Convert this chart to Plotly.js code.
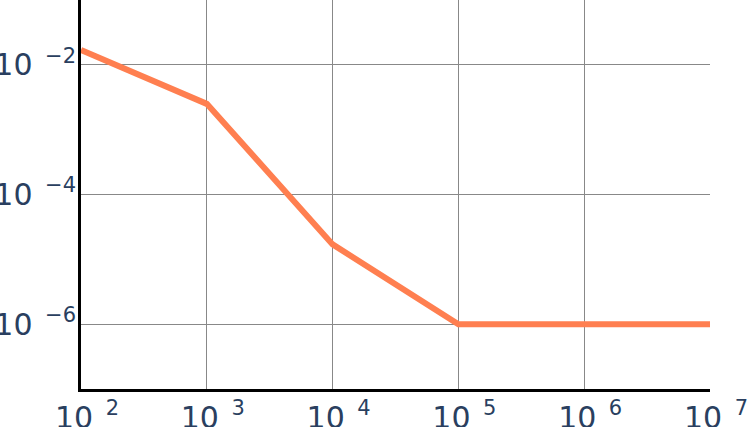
<!DOCTYPE html>
<html><head><meta charset="utf-8">
<script src="https://cdn.plot.ly/plotly-3.0.1.min.js"></script>
<style>body{margin:0;padding:0;}#chart{width:747px;height:427px;}</style>
</head><body><div id="chart"></div>
<script>
const xValues = [1e2, 1e3, 1e4, 1e5, 1e6, 1e7];
const yValues = [0.017, 0.0025, 1.7e-5, 1e-6, 1e-6, 1e-6];
const xTickVals = [1e2, 1e3, 1e4, 1e5, 1e6, 1e7];
const xExponents = ['2', '3', '4', '5', '6', '7'];
const yTickVals = [1e-2, 1e-4, 1e-6];
const yExponents = ['\u22122', '\u22124', '\u22126'];

const gap = ' \u200a';
const xTickText = xExponents.map(e => '10' + gap + '<sup>' + e + '</sup>');
const yTickText = yExponents.map(e => '10' + gap + '<sup>' + e + '</sup>');

const trace = {
  x: xValues, y: yValues, type: 'scatter', mode: 'lines',
  line: {color: '#ff7f50', width: 6}, showlegend: false
};
const layout = {
  width: 747, height: 427,
  margin: {l: 81, r: 37, t: 0, b: 38, pad: 0},
  paper_bgcolor: '#ffffff', plot_bgcolor: '#ffffff',
  font: {family: 'DejaVu Sans, Verdana, sans-serif', size: 30, color: '#2a3f5f'},
  xaxis: {
    type: 'log', range: [2, 7], tickvals: xTickVals, ticktext: xTickText,
    showgrid: true, gridcolor: '#888888', gridwidth: 1,
    showline: true, linecolor: '#000000', linewidth: 3,
    zeroline: false, ticks: '', tickfont: {size: 30, color: '#2a3f5f'},
    ticklabelshift: 6, ticklabeloverflow: 'allow'
  },
  yaxis: {
    type: 'log', range: [-7, -1], tickvals: yTickVals, ticktext: yTickText,
    showgrid: true, gridcolor: '#888888', gridwidth: 1,
    showline: true, linecolor: '#000000', linewidth: 3,
    zeroline: false, ticks: '', tickfont: {size: 30, color: '#2a3f5f'},
    ticklabelstandoff: -4, ticklabeloverflow: 'allow'
  }
};
Plotly.newPlot('chart', [trace], layout, {displayModeBar: false, staticPlot: true});
</script></body></html>
